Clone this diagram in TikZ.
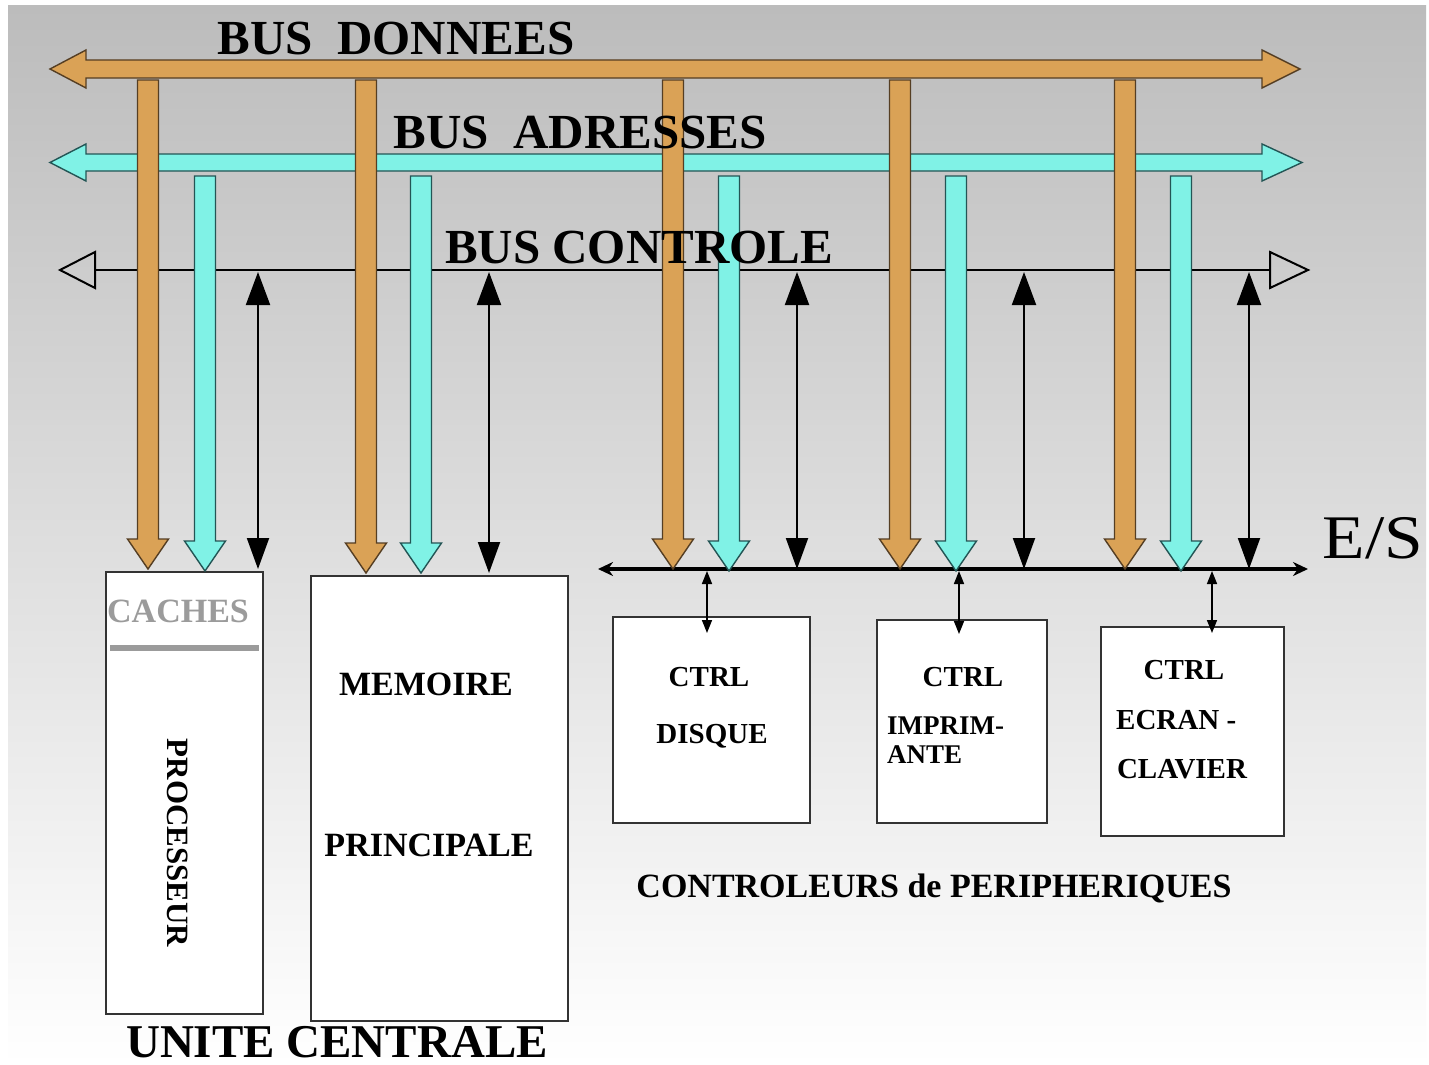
\documentclass[tikz,border=0pt]{standalone}
\usepackage{fontspec}
\setmainfont{Liberation Serif}
\usetikzlibrary{arrows.meta}
\definecolor{busor}{RGB}{218,162,86}
\definecolor{busorl}{RGB}{85,62,35}
\definecolor{buscy}{RGB}{128,242,230}
\definecolor{buscyl}{RGB}{35,85,85}
\definecolor{bgtop}{RGB}{188,188,188}
\definecolor{cachegray}{RGB}{155,155,155}
\tikzset{
  orfat/.style={fill=busor, draw=busorl, line width=1.4pt, line join=miter},
  cyfat/.style={fill=buscy, draw=buscyl, line width=1.4pt, line join=miter},
  boxnode/.style={draw=black!80, line width=1.8pt, fill=white, inner sep=0pt},
  buslbl/.style={font=\bfseries\fontsize{49}{49}\selectfont, inner sep=0pt},
  boxlbl/.style={font=\bfseries\fontsize{34}{34}\selectfont, inner sep=0pt},
  ctrllbl/.style={font=\bfseries\fontsize{29}{29}\selectfont, inner sep=0pt},
  ctlarrow/.style={line width=2pt, {Triangle[length=33pt,width=24pt]}-{Triangle[length=31pt,width=22pt]}},
  esarrow/.style={line width=1.6pt, {Triangle[length=13pt,width=10pt]}-{Triangle[length=13pt,width=10pt]}},
}
% fat downward arrow: x, ytop, ytip, style
\newcommand{\fatdn}[4]{%
  \filldraw[#4] (#1-10.5,#2) -- (#1+10.5,#2) -- (#1+10.5,#3-30) -- (#1+20.5,#3-30)
    -- (#1,#3) -- (#1-20.5,#3-30) -- (#1-10.5,#3-30) -- cycle;}
\begin{document}
\begin{tikzpicture}[x=1pt,y=-1pt]
\useasboundingbox (0,0) rectangle (1429,1065);
\fill[white] (0,0) rectangle (1429,1065);
\shade[top color=bgtop, bottom color=white] (8,6) rectangle (1426,1065);

% ---- BUS DONNEES (horizontal)
\filldraw[orfat] (86,60) -- (1262,60) -- (1262,50) -- (1300,69) -- (1262,88) -- (1262,78)
  -- (86,78) -- (86,88) -- (50,69) -- (86,50) -- cycle;
% ---- BUS ADRESSES (horizontal)
\filldraw[cyfat] (86,154) -- (1262,154) -- (1262,144) -- (1302,162.5) -- (1262,181) -- (1262,171)
  -- (86,171) -- (86,181) -- (50,162.5) -- (86,144) -- cycle;
% ---- BUS CONTROLE (thin line, open heads)
\draw[line width=2pt] (95,270) -- (1270,270);
\draw[line width=2pt, line join=miter] (95,252) -- (60,270) -- (95,288) -- cycle;
\draw[line width=2pt, line join=miter] (1270,252) -- (1308,270) -- (1270,288) -- cycle;

% ---- boxes
\node[boxnode, anchor=north west, minimum width=157pt, minimum height=442pt] (proc) at (105,571) {};
\node[boxnode, anchor=north west, minimum width=257pt, minimum height=445pt] (mem) at (310,575) {};
\node[boxnode, anchor=north west, minimum width=197pt, minimum height=206pt] (dsk) at (612,616) {};
\node[boxnode, anchor=north west, minimum width=170pt, minimum height=203pt] (imp) at (876,619) {};
\node[boxnode, anchor=north west, minimum width=183pt, minimum height=209pt] (ecr) at (1100,626) {};

% ---- E/S bus
\coordinate (esL) at (598,569);
\coordinate (esR) at (1308,569);
\draw[line width=4pt, {Stealth[length=15pt,width=14pt]}-{Stealth[length=15pt,width=14pt]}] (esL) -- (esR);

% ---- vertical data arrows (orange)
\fatdn{148}{80}{569}{orfat}
\fatdn{366}{80}{573}{orfat}
\fatdn{673}{80}{569}{orfat}
\fatdn{900}{80}{569}{orfat}
\fatdn{1125}{80}{569}{orfat}
% ---- vertical address arrows (cyan)
\fatdn{205}{176}{571}{cyfat}
\fatdn{421}{176}{573}{cyfat}
\fatdn{729}{176}{571}{cyfat}
\fatdn{956}{176}{571}{cyfat}
\fatdn{1181}{176}{571}{cyfat}

% ---- control arrows (black, double)
\foreach \n/\xx/\yy in {c1/258/569, c2/489/573, c3/797/569, c4/1024/569, c5/1249/569}{
  \coordinate (\n t) at (\xx,272);
  \coordinate (\n b) at (\xx,\yy);
  \draw[ctlarrow] (\n t) -- (\n b);
}

% ---- E/S to controllers
\coordinate (e1) at (707,571); \coordinate (k1) at (707,633);
\coordinate (e2) at (959,571); \coordinate (k2) at (959,634);
\coordinate (e3) at (1212,571); \coordinate (k3) at (1212,633);
\draw[esarrow] (e1) -- (k1);
\draw[esarrow] (e2) -- (k2);
\draw[esarrow] (e3) -- (k3);

% ---- processor details
\draw[cachegray, line width=6pt] (110,648) -- (259,648);
\node[boxlbl, text=cachegray] (caches) at (178,611) {CACHES};
\node[font=\bfseries\fontsize{31}{31}\selectfont, inner sep=0pt, rotate=-90] (procl) at (178,843) {PROCESSEUR};

% ---- memory text
\node[boxlbl] (m1) at (426,684) {MEMOIRE};
\node[boxlbl] (m2) at (429,845) {PRINCIPALE};

% ---- controller texts
\node[ctrllbl] (d1) at (709,677) {CTRL};
\node[ctrllbl] (d2) at (712,736) {DISQUE};
\node[ctrllbl] (i1) at (963,677) {CTRL};
\node[font=\bfseries\fontsize{27}{27}\selectfont, inner sep=0pt, anchor=west] (i2) at (887,726) {IMPRIM-};
\node[font=\bfseries\fontsize{27}{27}\selectfont, inner sep=0pt, anchor=west] (i3) at (887,755) {ANTE};
\node[ctrllbl] (s1) at (1184,670) {CTRL};
\node[ctrllbl, anchor=west] (s2) at (1116,720) {ECRAN -};
\node[ctrllbl] (s3) at (1182,769) {CLAVIER};

% ---- bus labels
\node[buslbl] (lbd) at (396,39) {BUS\ \ DONNEES};
\node[buslbl] (lba) at (580,133) {BUS\ \ ADRESSES};
\node[buslbl] (lbc) at (639,248) {BUS CONTROLE};
\node[font=\fontsize{62}{62}\selectfont, inner sep=0pt] (les) at (1373,538) {\scalebox{1.12}[1]{E/S}};

% ---- group labels
\node[font=\bfseries\fontsize{34}{34}\selectfont, inner sep=0pt] (lctrl) at (934,888) {CONTROLEURS de PERIPHERIQUES};
\node[font=\bfseries\fontsize{47}{47}\selectfont, inner sep=0pt] (luc) at (337,1042) {UNITE CENTRALE};
\end{tikzpicture}
\end{document}
